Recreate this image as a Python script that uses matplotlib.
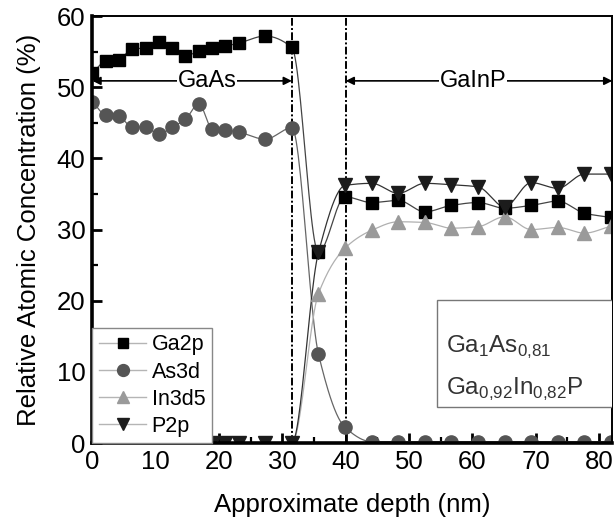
import numpy as np
import matplotlib
matplotlib.use('Agg')
import matplotlib.pyplot as plt
from matplotlib.lines import Line2D
from matplotlib.patches import Rectangle
from matplotlib.ticker import MultipleLocator

plt.rcParams['font.family'] = ['Liberation Sans', 'DejaVu Sans']
plt.rcParams['mathtext.fontset'] = 'custom'
plt.rcParams['mathtext.rm'] = 'Liberation Sans'

# Depth profile data
depth = [0, 2.1, 4.2, 6.3, 8.4, 10.5, 12.6, 14.7, 16.8, 18.9, 21.0, 23.1, 27.3, 31.5,
         35.7, 39.9, 44.1, 48.3, 52.5, 56.7, 60.9, 65.1, 69.3, 73.5, 77.7, 81.9]
ga2p = [52.0, 53.7, 53.9, 55.4, 55.5, 56.4, 55.5, 54.4, 55.1, 55.5, 55.8, 56.2, 57.2, 55.6,
        26.8, 34.6, 33.8, 34.1, 32.5, 33.4, 33.8, 33.0, 33.4, 34.0, 32.3, 31.7]
as3d = [48.0, 46.1, 45.9, 44.4, 44.4, 43.4, 44.4, 45.5, 47.7, 44.2, 44.0, 43.7, 42.7, 44.3,
        12.5, 2.2, 0.2, 0.2, 0.2, 0.2, 0.2, 0.2, 0.2, 0.2, 0.2, 0.2]
in3d5 = [0, 0, 0, 0, 0, 0, 0, 0, 0, 0, 0, 0, 0, 0,
         21.0, 27.4, 29.9, 31.1, 31.0, 30.2, 30.4, 31.8, 30.0, 30.3, 29.5, 30.5]
p2p = [0, 0, 0, 0, 0, 0, 0, 0, 0, 0, 0, 0, 0, 0,
       26.8, 36.2, 36.5, 35.1, 36.5, 36.3, 36.0, 33.2, 36.6, 35.8, 37.8, 37.8]

interfaces = [31.5, 40]


def smooth(x, y, n=25):
    # monotone cubic (pchip-style) through the points, only for the drawn line
    x = np.asarray(x, float)
    y = np.asarray(y, float)
    h = np.diff(x)
    d = np.diff(y) / h
    m = np.zeros_like(y)
    m[0], m[-1] = d[0], d[-1]
    for i in range(1, len(x) - 1):
        if d[i - 1] * d[i] > 0:
            w1 = 2 * h[i] + h[i - 1]
            w2 = h[i] + 2 * h[i - 1]
            m[i] = (w1 + w2) / (w1 / d[i - 1] + w2 / d[i])
    xs, ys = [], []
    t = np.linspace(0, 1, n, endpoint=False)
    h00 = 2 * t**3 - 3 * t**2 + 1
    h10 = t**3 - 2 * t**2 + t
    h01 = -2 * t**3 + 3 * t**2
    h11 = t**3 - t**2
    for i in range(len(x) - 1):
        xs.append(x[i] + t * h[i])
        ys.append(h00 * y[i] + h10 * h[i] * m[i] + h01 * y[i + 1] + h11 * h[i] * m[i + 1])
    xs.append([x[-1]])
    ys.append([y[-1]])
    return np.concatenate(xs), np.concatenate(ys)


fig = plt.figure(figsize=(6.16, 5.2), dpi=100)
ax = fig.add_axes([0.150, 0.148, 0.844, 0.821])

series = [
    ('Ga2p', ga2p, 's', '#000000', '#444444', 8),
    ('As3d', as3d, 'o', '#555555', '#666666', 9.5),
    ('In3d5', in3d5, '^', '#9a9a9a', '#b0b0b0', 10),
    ('P2p', p2p, 'v', '#1c1c1c', '#333333', 10),
]

handles = []
for name, vals, mk, mc, lc, ms in series:
    sx, sy = smooth(depth, vals)
    ax.plot(sx, sy, color=lc, lw=0.9, zorder=2)
    ax.plot(depth, vals, linestyle='none', marker=mk, ms=ms, color=mc, mec=mc, zorder=2.2)
    handles.append(Line2D([], [], color='#b5b5b5', lw=1, marker=mk, ms=ms * 0.9, mfc=mc, mec=mc))

for xv in interfaces:
    ax.axvline(xv, color='k', lw=1.4, ls=(0, (4, 1.2, 1, 1.2)), zorder=1)

# layer annotations
arrow = dict(arrowstyle='<|-|>', color='k', lw=1.2, shrinkA=0, shrinkB=0, mutation_scale=12)
ax.annotate('', xy=(0, 50.9), xytext=(31.5, 50.9), arrowprops=arrow, zorder=4)
ax.text(18.1, 50.9, 'GaAs', ha='center', va='center', fontsize=17,
        bbox=dict(facecolor='white', edgecolor='none', pad=0.5), zorder=5)
ax.annotate('', xy=(40, 50.9), xytext=(82.1, 50.9), arrowprops=arrow, zorder=4)
ax.text(60.1, 50.9, 'GaInP', ha='center', va='center', fontsize=17,
        bbox=dict(facecolor='white', edgecolor='none', pad=0.5), zorder=5)

# composition box
ax.add_patch(Rectangle((0.662, 0.084), 0.34, 0.251, transform=ax.transAxes,
                       facecolor='white', edgecolor='#777777', lw=1, zorder=6))
ax.text(0.68, 0.225, r'Ga$_\mathregular{1}$As$_\mathregular{0{,}81}$', transform=ax.transAxes,
        ha='left', va='center', fontsize=17.5, color='#333333', zorder=7)
ax.text(0.68, 0.125, r'Ga$_\mathregular{0{,}92}$In$_\mathregular{0{,}82}$P', transform=ax.transAxes,
        ha='left', va='center', fontsize=17.5, color='#333333', zorder=7)

leg = ax.legend(handles, [s[0] for s in series], loc='lower left', bbox_to_anchor=(0, 0),
                borderaxespad=0, fontsize=15.5, fancybox=False, framealpha=1,
                edgecolor='#888888', handlelength=2.2, handletextpad=0.25,
                labelspacing=0.28, borderpad=0.3)
leg.get_frame().set_linewidth(1)
leg.set_zorder(8)

ax.set_xlim(0, 82.1)
ax.set_ylim(0, 60)
ax.xaxis.set_major_locator(MultipleLocator(10))
ax.xaxis.set_minor_locator(MultipleLocator(5))
ax.yaxis.set_major_locator(MultipleLocator(10))
ax.yaxis.set_minor_locator(MultipleLocator(5))
ax.tick_params(which='major', direction='in', length=7, width=2, labelsize=18.5, pad=5)
ax.tick_params(which='minor', direction='in', length=4, width=1.6)
for side in ['left', 'bottom']:
    ax.spines[side].set_linewidth(2.6)
for side in ['top', 'right']:
    ax.spines[side].set_linewidth(1.4)

ax.set_xlabel('Approximate depth (nm)', fontsize=18.5, labelpad=14)
ax.set_ylabel('Relative Atomic Concentration (%)', fontsize=18.5, labelpad=11)

plt.savefig('out.png', dpi=100)
